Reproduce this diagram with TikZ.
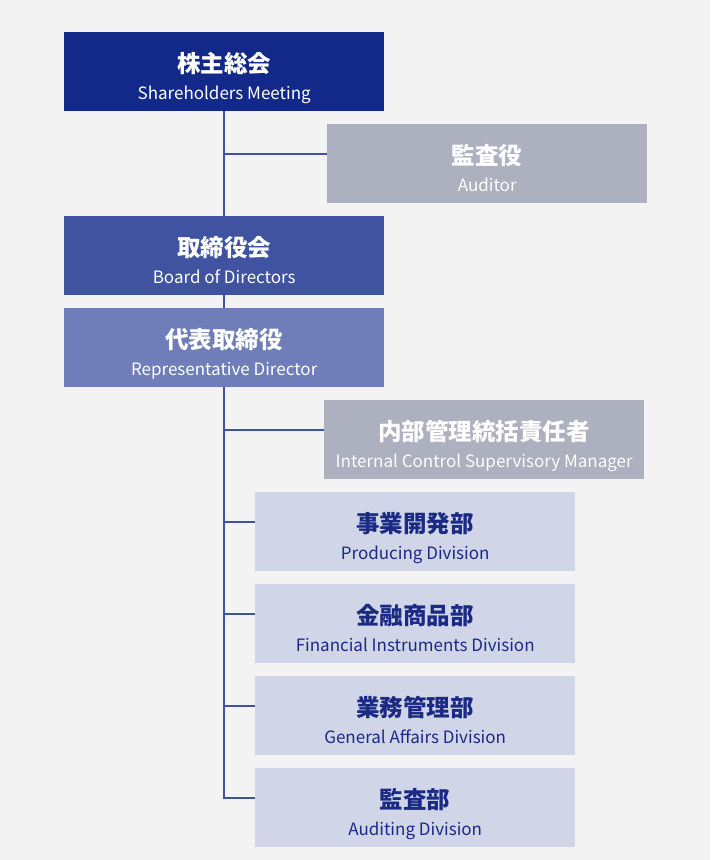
\documentclass[tikz,border=0pt]{standalone}
\usepackage{fontspec}
\setmainfont{Noto Sans CJK JP}
\definecolor{bgc}{HTML}{F2F3F2}
\definecolor{navy}{HTML}{13298A}
\definecolor{board}{HTML}{3F53A0}
\definecolor{rep}{HTML}{6F7EB8}
\definecolor{greyb}{HTML}{ADB0BF}
\definecolor{lightb}{HTML}{D0D5E7}
\definecolor{darkt}{HTML}{1B2A85}
\tikzset{
  orgrect/.style={rectangle, draw=none, inner sep=0pt, minimum width=320pt, minimum height=79pt, anchor=north west},
  jptext/.style={anchor=base, inner sep=0pt, font=\fontsize{23.5}{25}\selectfont\bfseries},
  entext/.style={anchor=base, inner sep=0pt, font=\fontsize{17}{19}\selectfont},
  conn/.style={draw=board, line width=2pt}
}
\newcommand\orgbox[7]{%
  \node[orgrect, fill=#4] (#1) at (#2,#3) {};
  \node[jptext, text=#5] (#1jp) at ([yshift=-40pt]#1.north) {#6};
  \node[entext, text=#5] (#1en) at ([yshift=-67pt]#1.north) {#7};
  \coordinate (#1c) at ([yshift=-30pt]#1.north west);
}
\begin{document}
\begin{tikzpicture}[x=1pt,y=-1pt]
\fill[bgc] (0,0) rectangle (710,860);
\useasboundingbox (0,0) rectangle (710,860);
\orgbox{sh}{64}{32}{navy}{white}{株主総会}{Shareholders Meeting}
\orgbox{au}{327}{124}{greyb}{white}{監査役}{Auditor}
\orgbox{bd}{64}{216}{board}{white}{取締役会}{Board of Directors}
\orgbox{rp}{64}{308}{rep}{white}{代表取締役}{Representative Director}
\orgbox{ic}{324}{400}{greyb}{white}{内部管理統括責任者}{Internal Control Supervisory Manager}
\orgbox{pd}{255}{492}{lightb}{darkt}{事業開発部}{Producing Division}
\orgbox{fi}{255}{584}{lightb}{darkt}{金融商品部}{Financial Instruments Division}
\orgbox{ga}{255}{676}{lightb}{darkt}{業務管理部}{General Affairs Division}
\orgbox{ad}{255}{768}{lightb}{darkt}{監査部}{Auditing Division}
\draw[conn] (sh.south) -- (bd.north);
\draw[conn] (sh.south |- auc) -- (auc);
\draw[conn] (bd.south) -- (rp.north);
\draw[conn] (rp.south) -- (rp.south |- adc) -- (adc);
\draw[conn] (rp.south |- icc) -- (icc);
\draw[conn] (rp.south |- pdc) -- (pdc);
\draw[conn] (rp.south |- fic) -- (fic);
\draw[conn] (rp.south |- gac) -- (gac);
\end{tikzpicture}
\end{document}
